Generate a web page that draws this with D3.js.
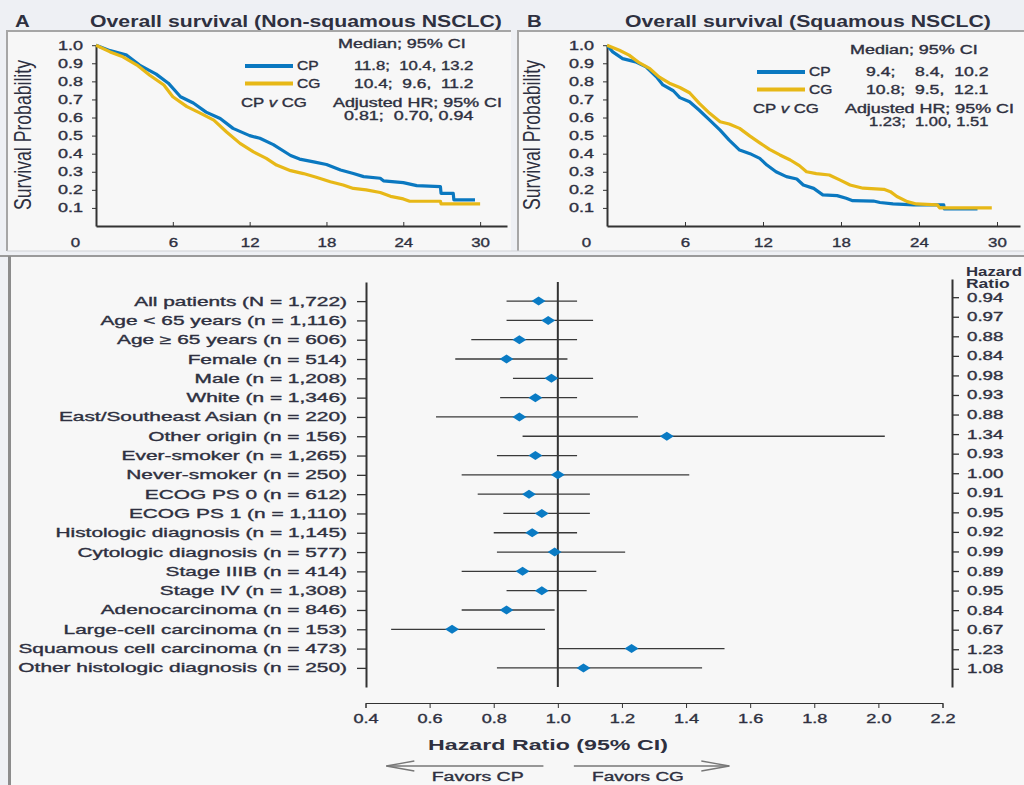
<!DOCTYPE html>
<html>
<head>
<meta charset="utf-8">
<script src="https://cdn.jsdelivr.net/npm/d3@7"></script>
<style>
  body { margin: 0; background: #eef0f4; }
  svg { display: block; font-family: "Liberation Sans", Arial, sans-serif; }
  text { fill: #2e3040; white-space: pre; stroke: #2e3040; stroke-width: 0.35px; }
  text.heavy { stroke-width: 0; }
</style>
</head>
<body>
<div id="chart"></div>
<script>
// ---- data ----
const monthTicks = [0, 6, 12, 18, 24, 30];
const survTicks = [0.1, 0.2, 0.3, 0.4, 0.5, 0.6, 0.7, 0.8, 0.9, 1.0];

// Kaplan-Meier curves: [month, survival]
const nonsqCP = [[0, 1.0], [1.1, 0.97], [2.4, 0.945], [3.4, 0.89], [4.7, 0.84], [5.65, 0.79], [6.6, 0.715], [7.6, 0.68],
  [8.6, 0.63], [9.7, 0.595], [10.7, 0.54], [12.0, 0.5], [12.8, 0.485], [13.85, 0.45], [15.2, 0.39], [15.9, 0.37],
  [17.0, 0.355], [18.0, 0.34], [19.1, 0.31], [20.1, 0.29], [20.9, 0.273], [22.2, 0.264], [22.45, 0.25], [24.0, 0.24],
  [25.05, 0.223], [26.9, 0.218], [26.95, 0.18], [27.9, 0.18], [27.95, 0.145], [29.6, 0.145]];
const nonsqCG = [[0, 1.0], [1.1, 0.963], [2.1, 0.936], [3.2, 0.89], [4.2, 0.834], [5.3, 0.78], [6.0, 0.715], [7.1, 0.66],
  [8.1, 0.626], [9.2, 0.586], [10.2, 0.52], [11.25, 0.457], [12.3, 0.41], [13.3, 0.374], [14.1, 0.337], [15.2, 0.306],
  [16.2, 0.29], [17.2, 0.27], [18.3, 0.245], [19.3, 0.227], [20.1, 0.208], [21.1, 0.2], [22.2, 0.185], [23.0, 0.164],
  [24.0, 0.15], [24.5, 0.137], [26.9, 0.137], [26.95, 0.122], [30.0, 0.122]];
const sqCP = [[0, 1.0], [0.44, 0.963], [1.2, 0.926], [2.2, 0.908], [3.0, 0.88], [3.8, 0.825], [4.3, 0.78], [5.1, 0.748],
  [5.6, 0.71], [6.35, 0.687], [7.1, 0.64], [7.9, 0.586], [8.7, 0.53], [9.4, 0.475], [10.2, 0.42], [11.0, 0.4],
  [11.75, 0.374], [12.3, 0.337], [13.0, 0.3], [13.8, 0.273], [14.6, 0.26], [15.1, 0.227], [15.9, 0.208], [16.6, 0.172],
  [17.7, 0.168], [18.4, 0.153], [18.9, 0.14], [20.5, 0.138], [21.0, 0.13], [22.0, 0.122], [23.6, 0.117], [25.9, 0.117],
  [25.95, 0.094], [28.5, 0.094]];
const sqCG = [[0, 1.0], [0.95, 0.972], [1.7, 0.945], [2.5, 0.902], [3.3, 0.87], [4.0, 0.825], [4.8, 0.79], [5.6, 0.766],
  [6.35, 0.737], [7.1, 0.678], [7.9, 0.623], [8.7, 0.577], [9.4, 0.564], [10.2, 0.54], [11.0, 0.497], [11.75, 0.46],
  [12.5, 0.424], [13.3, 0.393], [14.1, 0.365], [14.8, 0.334], [15.35, 0.3], [16.1, 0.29], [17.1, 0.282], [17.9, 0.255],
  [18.7, 0.227], [19.7, 0.209], [21.3, 0.203], [21.8, 0.19], [22.3, 0.163], [23.1, 0.135], [23.8, 0.122], [25.4, 0.117],
  [25.6, 0.1], [29.6, 0.1]];

const nonsqStats = ['11.8;  10.4, 13.2', '10.4;  9.6,  11.2', '0.81;  0.70, 0.94'];
const sqStats = ['9.4;    8.4,  10.2', '10.8;  9.5,  12.1', '1.23;  1.00, 1.51'];

// forest plot
const subgroups = [
  'All patients (N = 1,722)', 'Age < 65 years (n = 1,116)', 'Age \u2265 65 years (n = 606)', 'Female (n = 514)',
  'Male (n = 1,208)', 'White (n = 1,346)', 'East/Southeast Asian (n = 220)', 'Other origin (n = 156)',
  'Ever-smoker (n = 1,265)', 'Never-smoker (n = 250)', 'ECOG PS 0 (n = 612)', 'ECOG PS 1 (n = 1,110)',
  'Histologic diagnosis (n = 1,145)', 'Cytologic diagnosis (n = 577)', 'Stage IIIB (n = 414)', 'Stage IV (n = 1,308)',
  'Adenocarcinoma (n = 846)', 'Large-cell carcinoma (n = 153)', 'Squamous cell carcinoma (n = 473)',
  'Other histologic diagnosis (n = 250)'];
const hazard = [0.94, 0.97, 0.88, 0.84, 0.98, 0.93, 0.88, 1.34, 0.93, 1.00, 0.91, 0.95, 0.92, 0.99, 0.89, 0.95, 0.84, 0.67, 1.23, 1.08];
const ciLow = [0.84, 0.84, 0.73, 0.68, 0.86, 0.82, 0.62, 0.89, 0.81, 0.70, 0.75, 0.83, 0.80, 0.81, 0.70, 0.84, 0.70, 0.48, 1.00, 0.81];
const ciHigh = [1.06, 1.11, 1.06, 1.03, 1.11, 1.06, 1.25, 2.02, 1.06, 1.41, 1.10, 1.10, 1.06, 1.21, 1.12, 1.09, 0.99, 0.96, 1.52, 1.45];
const hrTicks = [0.4, 0.6, 0.8, 1.0, 1.2, 1.4, 1.6, 1.8, 2.0, 2.2];

const BLUE = '#0a78c0', GOLD = '#e7b817', INK = '#2e3040';

// ---- helpers ----
// widen text horizontally about its anchor x
function stretch(node, sx) {
    const x = +node.getAttribute('x') || 0;
    node.setAttribute('transform', 'translate(' + x + ',0) scale(' + sx + ',1) translate(' + (-x) + ',0)');
}
function fit(node, w) {
    stretch(node, w / node.getBBox().width);
}

const svg = d3.select('#chart').append('svg')
    .attr('width', 1024)
    .attr('height', 785);

// ---- frames ----
svg.append('rect').attr('width', 1024).attr('height', 785).attr('fill', '#eef0f4');
svg.append('rect').attr('x', 7).attr('y', 31).attr('width', 504).attr('height', 220).attr('fill', '#f7f7f7');
svg.append('rect').attr('x', 518).attr('y', 31).attr('width', 506).attr('height', 220).attr('fill', '#f7f7f7');
svg.append('rect').attr('x', 9).attr('y', 256).attr('width', 1015).attr('height', 529).attr('fill', '#f7f7f7');

const frame = svg.append('g').attr('stroke', '#a6a6a6').attr('stroke-width', 2).attr('fill', 'none');
frame.append('path').attr('d', 'M7,251V31H511');
frame.append('path').attr('d', 'M518,251V31H1024');
frame.append('path').attr('d', 'M7,251H1024').attr('stroke', '#cfd1d5').attr('stroke-width', 1);
frame.append('path').attr('d', 'M0,256H1024').attr('stroke', '#9a9a9a');
frame.append('path').attr('d', 'M9.5,256V785').attr('stroke', '#8c8c8c').attr('stroke-width', 3);

// ---- survival panels ----
function kmPanel(p) {
    const x = d3.scaleLinear().domain([0, p.tMax]).range([p.x0, p.axisEnd]);
    const y = d3.scaleLinear().domain([0, 1]).range([226, 45.2]);
    const g = svg.append('g');

    g.append('text').attr('class', 'heavy').attr('x', p.tagX).attr('y', 27)
        .attr('font-size', 17).attr('font-weight', 'bold').text(p.tag)
        .each(function () { stretch(this, 1.2); });
    g.append('text').attr('class', 'heavy').attr('x', p.titleX).attr('y', 27)
        .attr('font-size', 16.5).attr('font-weight', 'bold').text(p.title)
        .each(function () { fit(this, p.titleW); });

    const ya = g.append('g')
        .attr('transform', 'translate(' + p.x0 + ',0)')
        .call(d3.axisLeft(y).tickValues(survTicks).tickFormat(d3.format('.1f'))
            .tickSize(4).tickSizeOuter(0).tickPadding(9));
    ya.attr('font-family', null).attr('font-size', 12).attr('color', '#333');
    ya.select('.domain').attr('stroke-width', 2);
    ya.selectAll('.tick text').attr('fill', INK).each(function () { stretch(this, 1.5); });

    const xa = g.append('g')
        .attr('transform', 'translate(0,226)')
        .call(d3.axisBottom(x).tickValues(monthTicks).tickSizeInner(-4).tickSizeOuter(0).tickPadding(12));
    xa.attr('font-family', null).attr('font-size', 13).attr('color', '#333');
    xa.select('.domain').attr('stroke-width', 2);
    xa.selectAll('.tick').filter(d => d === 0).select('line').remove();
    xa.selectAll('.tick text').attr('fill', INK)
        .attr('x', d => d === 0 ? -21 : 0)
        .each(function () { stretch(this, 1.3); });

    g.append('text').attr('class', 'heavy')
        .attr('transform', 'translate(' + p.ylabX + ',135) rotate(-90)')
        .attr('text-anchor', 'middle').attr('font-size', 24).attr('fill', '#333')
        .attr('textLength', 150).attr('lengthAdjust', 'spacingAndGlyphs')
        .text('Survival Probability');

    const line = d3.line().x(d => x(d[0])).y(d => y(d[1]));
    [[p.cp, BLUE], [p.cg, GOLD]].forEach(([data, color]) => {
        g.append('path').datum(data)
            .attr('d', line)
            .attr('fill', 'none')
            .attr('stroke', color)
            .attr('stroke-width', 3.2)
            .attr('stroke-linejoin', 'round');
    });

    // legend block
    const L = p.leg, lg = g.append('g').attr('font-size', 12);
    lg.append('text').attr('x', L.x + 93).attr('y', L.y).text('Median; 95% CI')
        .each(function () { fit(this, 128); });
    [['CP', BLUE, p.stats[0]], ['CG', GOLD, p.stats[1]]].forEach(([name, color, stat], i) => {
        const yy = L.y + 18 + i * 17.5;
        lg.append('line').attr('x1', L.x).attr('x2', L.x + 48).attr('y1', yy).attr('y2', yy)
            .attr('stroke', color).attr('stroke-width', 4);
        lg.append('text').attr('x', L.x + 52).attr('y', yy + 4.3).text(name)
            .each(function () { stretch(this, 1.3); });
        lg.append('text').attr('x', L.x + 109).attr('y', yy + 4.3).text(stat)
            .each(function () { fit(this, p.statW); });
    });
    const vs = lg.append('text').attr('x', L.x - 4).attr('y', L.y + 59);
    vs.append('tspan').text('CP ');
    vs.append('tspan').attr('font-style', 'italic').text('v');
    vs.append('tspan').text(' CG');
    vs.each(function () { fit(this, 66); });
    lg.append('text').attr('x', L.x + 88).attr('y', L.y + 59).text('Adjusted HR; 95% CI')
        .each(function () { fit(this, 169); });
    lg.append('text').attr('x', L.x + 99 + p.hrShift).attr('y', L.y + 72.5).text(p.stats[2])
        .each(function () { fit(this, p.hrW); });
}

kmPanel({
    tag: 'A', tagX: 15, title: 'Overall survival (Non-squamous NSCLC)', titleX: 90, titleW: 412,
    x0: 96, axisEnd: 507, tMax: 32.1, ylabX: 31,
    cp: nonsqCP, cg: nonsqCG, stats: nonsqStats, statW: 120, hrW: 130, hrShift: 0,
    leg: { x: 245, y: 48 }
});
kmPanel({
    tag: 'B', tagX: 527, title: 'Overall survival (Squamous NSCLC)', titleX: 625, titleW: 366,
    x0: 607, axisEnd: 1020, tMax: 31.77, ylabX: 540,
    cp: sqCP, cg: sqCG, stats: sqStats, statW: 123, hrW: 120, hrShift: 13,
    leg: { x: 757, y: 54 }
});

// ---- forest plot ----
const fx = d3.scaleLinear().domain([0.4, 2.2]).range([365.5, 942.5]);
const fy = d3.scalePoint().domain(subgroups).range([282, 687]).padding(0.99);
const fyRight = d3.scalePoint().domain(subgroups).range([279, 687]).padding(0.93);
const forest = svg.append('g');

const la = forest.append('g')
    .attr('transform', 'translate(366,0)')
    .call(d3.axisLeft(fy).tickSize(9).tickSizeOuter(0).tickPadding(10));
la.attr('font-family', null).attr('font-size', 12.5).attr('color', '#333');
la.select('.domain').attr('stroke-width', 2);
la.selectAll('.tick line').attr('stroke-width', 1.3);
const labNodes = la.selectAll('.tick text').attr('fill', INK).nodes();
const labScale = 329 / d3.max(labNodes, n => n.getComputedTextLength());
labNodes.forEach(n => stretch(n, labScale));

const ra = forest.append('g')
    .attr('transform', 'translate(952,0)')
    .call(d3.axisRight(fyRight).tickSize(7).tickSizeOuter(0).tickPadding(8)
        .tickFormat((d, i) => hazard[i].toFixed(2)));
ra.attr('font-family', null).attr('font-size', 12.5).attr('color', '#333');
ra.select('.domain').attr('stroke-width', 2);
ra.selectAll('.tick line').attr('stroke-width', 1.3);
ra.selectAll('.tick text').attr('fill', INK).each(function () { stretch(this, 1.5); });

// header of the value column, kept just inside the right edge
forest.append('text').attr('class', 'heavy').attr('x', 966).attr('y', 275.7).attr('font-size', 12.5).attr('font-weight', 'bold')
    .attr('fill', '#3a3f5a').text('Hazard').each(function () { fit(this, 56); });
forest.append('text').attr('class', 'heavy').attr('x', 966).attr('y', 288.3).attr('font-size', 12.5).attr('font-weight', 'bold')
    .attr('fill', '#3a3f5a').text('Ratio').each(function () { stretch(this, 1.4); });

// reference line at HR = 1
forest.append('line')
    .attr('x1', fx(1)).attr('x2', fx(1)).attr('y1', 282).attr('y2', 687)
    .attr('stroke', '#333').attr('stroke-width', 2);

// confidence intervals
forest.append('g').selectAll('line')
    .data(subgroups)
    .join('line')
    .attr('x1', (d, i) => fx(ciLow[i]))
    .attr('x2', (d, i) => fx(ciHigh[i]))
    .attr('y1', d => fy(d))
    .attr('y2', d => fy(d))
    .attr('stroke', '#3a3a3a')
    .attr('stroke-width', 1.3);

// point estimates
forest.append('g').selectAll('path')
    .data(subgroups)
    .join('path')
    .attr('transform', (d, i) => 'translate(' + fx(hazard[i]) + ',' + fy(d) + ')')
    .attr('d', 'M-7,0L0,-4.5L7,0L0,4.5Z')
    .attr('fill', '#0a7bc4');

const xa = forest.append('g')
    .attr('transform', 'translate(0,703)')
    .call(d3.axisBottom(fx).tickValues(hrTicks).tickFormat(d3.format('.1f')).tickSize(5).tickPadding(6));
xa.attr('font-family', null).attr('font-size', 12.5).attr('color', '#333');
xa.selectAll('.tick text').attr('fill', INK).each(function () { stretch(this, 1.45); });

forest.append('text').attr('class', 'heavy')
    .attr('x', 548).attr('y', 750)
    .attr('text-anchor', 'middle').attr('font-size', 15).attr('font-weight', 'bold')
    .text('Hazard Ratio (95% CI)')
    .each(function () { fit(this, 240); });

// favour arrows
const arrows = forest.append('g').attr('stroke', '#777').attr('stroke-width', 1.3).attr('fill', 'none');
arrows.append('line').attr('x1', fx(0.955)).attr('x2', fx(0.465)).attr('y1', 766).attr('y2', 766);
arrows.append('path').attr('d', 'M' + (fx(0.465) + 28) + ',761L' + fx(0.465) + ',766L' + (fx(0.465) + 28) + ',771');
arrows.append('line').attr('x1', fx(1.05)).attr('x2', fx(1.535)).attr('y1', 766).attr('y2', 766);
arrows.append('path').attr('d', 'M' + (fx(1.535) - 28) + ',761L' + fx(1.535) + ',766L' + (fx(1.535) - 28) + ',771');

forest.append('text').attr('x', fx(0.75)).attr('y', 781).attr('text-anchor', 'middle').attr('font-size', 12)
    .text('Favors CP').each(function () { fit(this, 92); });
forest.append('text').attr('x', fx(1.25)).attr('y', 781).attr('text-anchor', 'middle').attr('font-size', 12)
    .text('Favors CG').each(function () { fit(this, 92); });
</script>
</body>
</html>
